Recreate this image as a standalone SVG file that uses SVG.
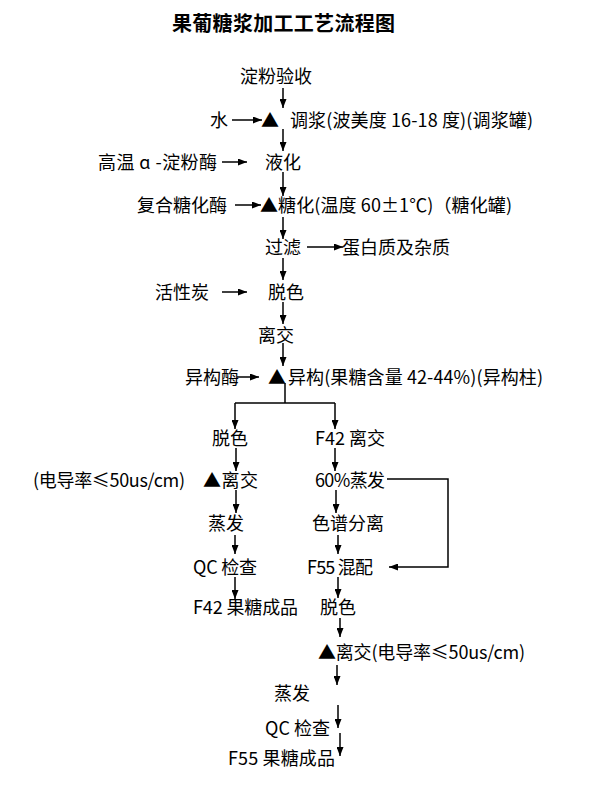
<svg xmlns="http://www.w3.org/2000/svg" width="594" height="785" viewBox="0 0 594 785">
<defs>
<marker id="ah" markerUnits="userSpaceOnUse" markerWidth="9" markerHeight="7" refX="9" refY="3.5" orient="auto">
<path d="M0,0 L9,3.5 L0,7 z" fill="#000"/>
</marker>
<style>
text{font-family:"Noto Sans CJK SC","Liberation Sans",sans-serif;font-size:18px;fill:#000}
.title{font-size:20px;font-weight:bold}
.c line,.c polyline{stroke:#000;stroke-width:1.5;fill:none}
.a{marker-end:url(#ah)}
</style>
</defs>
<rect width="594" height="785" fill="#fff"/>
<g id="title"><text class="title" x="172" y="31" textLength="223" lengthAdjust="spacing">果葡糖浆加工工艺流程图</text></g>
<g id="n-starch"><text x="240" y="83">淀粉验收</text></g>
<g id="n-water"><text x="210" y="127">水</text></g>
<g id="n-tri1"><text x="261" y="127">▲</text></g>
<g id="n-slurry"><text x="290" y="127" textLength="243" lengthAdjust="spacing">调浆(波美度 16-18 度)(调浆罐)</text></g>
<g id="n-amylase"><text x="98" y="169" textLength="119" lengthAdjust="spacing">高温 ɑ -淀粉酶</text></g>
<g id="n-liquefy"><text x="265" y="169">液化</text></g>
<g id="n-glucoamylase"><text x="137" y="212">复合糖化酶</text></g>
<g id="n-saccharify"><text x="260" y="212" textLength="252" lengthAdjust="spacing">▲糖化(温度 60±1℃)（糖化罐)</text></g>
<g id="n-filter"><text x="265" y="254">过滤</text></g>
<g id="n-protein"><text x="342" y="254">蛋白质及杂质</text></g>
<g id="n-carbon"><text x="155" y="299">活性炭</text></g>
<g id="n-decolor1"><text x="268" y="299">脱色</text></g>
<g id="n-ion1"><text x="258" y="342">离交</text></g>
<g id="n-isomerase"><text x="185" y="384">异构酶</text></g>
<g id="n-tri2"><text x="268" y="384">▲</text></g>
<g id="n-isomerize"><text x="288" y="384" textLength="255" lengthAdjust="spacing">异构(果糖含量 42-44%)(异构柱)</text></g>
<g id="n-decolor2"><text x="212" y="445">脱色</text></g>
<g id="n-f42ion"><text x="315" y="445" textLength="70" lengthAdjust="spacing">F42 离交</text></g>
<g id="n-cond1"><text x="33" y="487" textLength="152" lengthAdjust="spacing">(电导率≤50us/cm)</text></g>
<g id="n-ion2"><text x="203" y="487" textLength="55" lengthAdjust="spacing">▲离交</text></g>
<g id="n-evap60"><text x="315" y="487" textLength="70" lengthAdjust="spacing">60%蒸发</text></g>
<g id="n-evap1"><text x="208" y="530">蒸发</text></g>
<g id="n-chrom"><text x="312" y="530">色谱分离</text></g>
<g id="n-qc1"><text x="193" y="574" textLength="64" lengthAdjust="spacing">QC 检查</text></g>
<g id="n-blend"><text x="307" y="574" textLength="66" lengthAdjust="spacing">F55 混配</text></g>
<g id="n-f42prod"><text x="193" y="614" textLength="105" lengthAdjust="spacing">F42 果糖成品</text></g>
<g id="n-decolor3"><text x="320" y="614">脱色</text></g>
<g id="n-ion3"><text x="318" y="659" textLength="207" lengthAdjust="spacing">▲离交(电导率≤50us/cm)</text></g>
<g id="n-evap2"><text x="274" y="700">蒸发</text></g>
<g id="n-qc2"><text x="265" y="735" textLength="65" lengthAdjust="spacing">QC 检查</text></g>
<g id="n-f55prod"><text x="228" y="765" textLength="107" lengthAdjust="spacing">F55 果糖成品</text></g>
<g id="connectors" class="c">
<line class="a" x1="283" y1="88" x2="283" y2="108"/>
<line class="a" x1="232" y1="120" x2="262" y2="120"/>
<line class="a" x1="283" y1="129" x2="283" y2="151"/>
<line class="a" x1="222" y1="162" x2="247" y2="162"/>
<line class="a" x1="283" y1="172" x2="283" y2="196"/>
<line class="a" x1="235" y1="205" x2="261" y2="205"/>
<line class="a" x1="283" y1="217" x2="283" y2="239"/>
<line class="a" x1="307" y1="247" x2="343" y2="247"/>
<line class="a" x1="283" y1="258" x2="283" y2="280"/>
<line class="a" x1="222" y1="292" x2="247" y2="292"/>
<line class="a" x1="283" y1="302" x2="283" y2="324"/>
<line class="a" x1="283" y1="343" x2="283" y2="366"/>
<line class="a" x1="237" y1="377" x2="259" y2="377"/>
<polyline points="285,383 285,403"/>
<line x1="235" y1="403" x2="335" y2="403"/>
<line class="a" x1="235" y1="403" x2="235" y2="429"/>
<line class="a" x1="335" y1="403" x2="335" y2="429"/>
<line class="a" x1="236" y1="448" x2="236" y2="471"/>
<line class="a" x1="335" y1="448" x2="335" y2="471"/>
<line class="a" x1="236" y1="490" x2="236" y2="513"/>
<line class="a" x1="336" y1="490" x2="336" y2="513"/>
<line class="a" x1="235" y1="535" x2="235" y2="554"/>
<line class="a" x1="338" y1="535" x2="338" y2="554"/>
<line class="a" x1="235" y1="577" x2="235" y2="599"/>
<line class="a" x1="338" y1="577" x2="338" y2="598"/>
<line class="a" x1="340" y1="618" x2="340" y2="637"/>
<line class="a" x1="337" y1="665" x2="337" y2="685"/>
<line class="a" x1="338" y1="705" x2="338" y2="728"/>
<line class="a" x1="340" y1="733" x2="340" y2="756"/>
<polyline class="a" points="387,479 448,479 448,567 389,567"/>
</g>
</svg>
